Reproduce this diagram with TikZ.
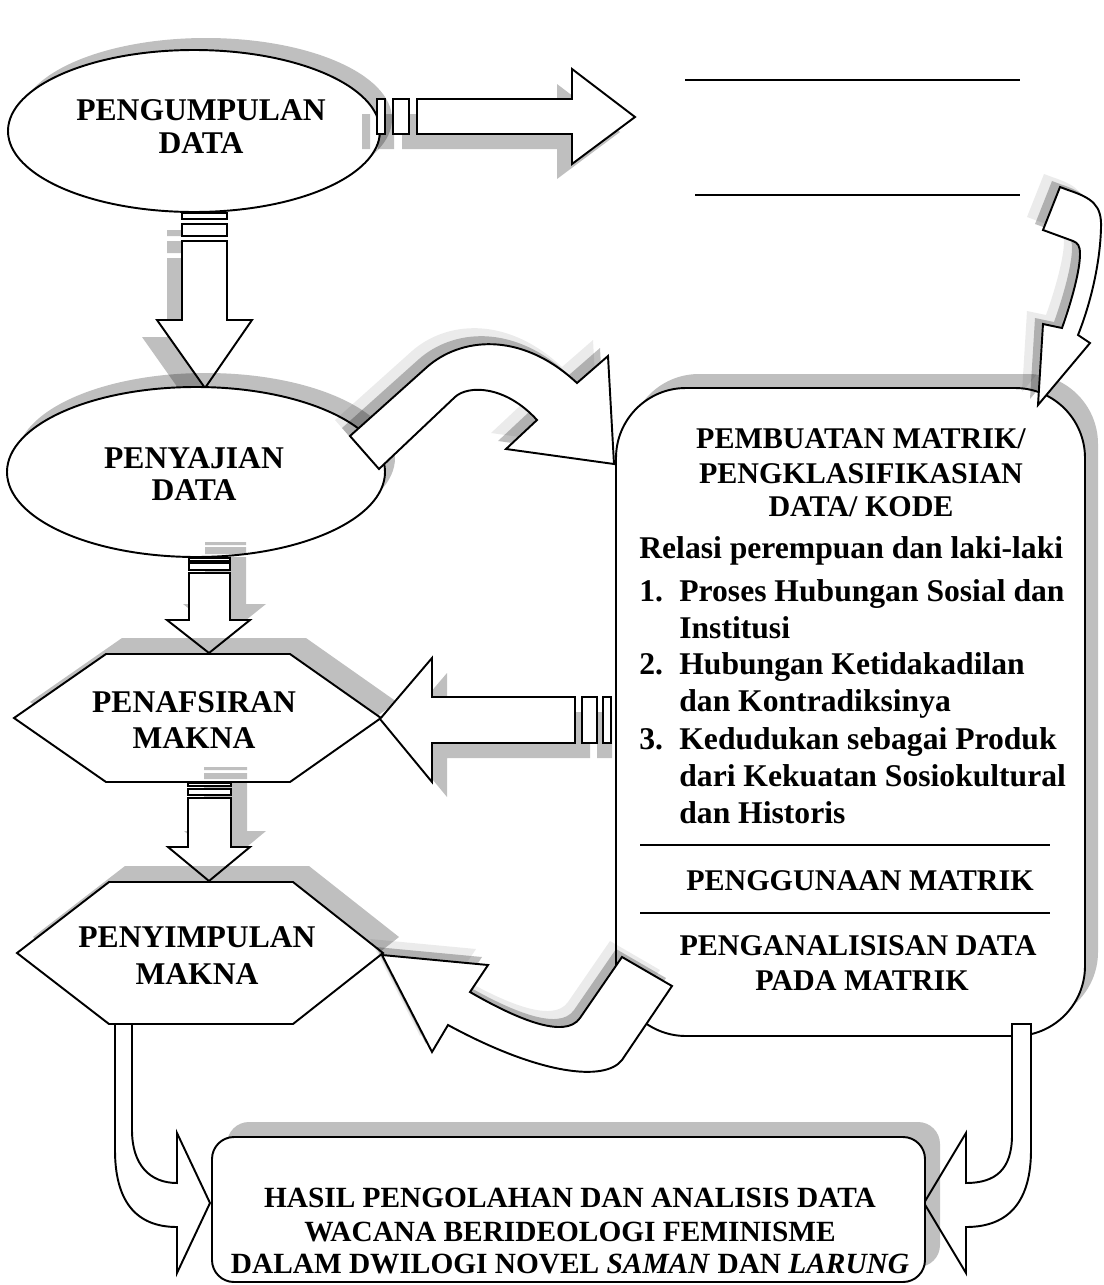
\documentclass[tikz,border=0pt]{standalone}
\usepackage{fontspec}
\setmainfont{Liberation Serif}
\newcommand\shapefont{\bfseries\fontsize{18pt}{21pt}\selectfont}
\newcommand\headfont{\bfseries\fontsize{17.1pt}{20pt}\selectfont}
\newcommand\capfont{\bfseries\fontsize{16.7pt}{19pt}\selectfont}
\newcommand\bodyfont{\bfseries\fontsize{18pt}{21pt}\selectfont}
% block arrow outlines (pixel-like units, y grows downwards)
\newcommand\pArrRight{(417,99) -- (572,99) -- (572,69) -- (635,117) -- (572,164) -- (572,134) -- (417,134) -- cycle (377,99) rectangle (385,134) (393,99) rectangle (409,134)}
\newcommand\pArrA{(182,241) -- (227,241) -- (227,320) -- (252,320) -- (205,388) -- (157,320) -- (182,320) -- cycle (182,213) rectangle (227,219) (182,224) rectangle (227,236)}
\newcommand\pArrB{(189,573) -- (230,573) -- (230,620) -- (250,620) -- (209,653) -- (167,620) -- (189,620) -- cycle (189,558) rectangle (230,561) (189,563) rectangle (230,570)}
\newcommand\pArrC{(188,798) -- (231,798) -- (231,847) -- (250,847) -- (209,881) -- (168,847) -- (188,847) -- cycle (188,783) rectangle (231,786) (188,789) rectangle (231,795)}
\newcommand\pArrLeft{(575,697) -- (432,697) -- (432,658) -- (380,719) -- (432,782) -- (432,743) -- (575,743) -- cycle (582,697) rectangle (597,743) (603,697) rectangle (611,743)}
\newcommand\pHexA{(14,718) -- (106,654) -- (290,654) -- (381,718) -- (290,782) -- (106,782) -- cycle}
\newcommand\pHexB{(17,953) -- (109,882) -- (293,882) -- (383,953) -- (293,1024) -- (109,1024) -- cycle}
\newcommand\pCurvA{(350,436) -- (427,367) .. controls (460,338) and (520,330) .. (577,383) -- (608,356) -- (614,464) -- (506,449) -- (537,420) .. controls (505,385) and (468,385) .. (455,397) -- (379,469) -- cycle}
\newcommand\pCurvB{(382,955) -- (488,965) -- (470,992) .. controls (515,1018) and (565,1040) .. (580,1018) -- (622,957) -- (672,986) -- (622,1060) .. controls (605,1082) and (540,1075) .. (448,1025) -- (432,1052) -- cycle}
\newcommand\pCurvC{(1060,187) -- (1068,190) .. controls (1092,198) and (1102,205) .. (1101,228) .. controls (1100,265) and (1090,305) .. (1078,335) -- (1090,343) -- (1038,405) -- (1043,324) -- (1062,328) .. controls (1072,300) and (1080,270) .. (1080,254) .. controls (1080,246) and (1078,243) .. (1073,241) -- (1043,230) -- cycle}
\newcommand\pUL{(115,1024) -- (115,1150) .. controls (115,1200) and (135,1227) .. (177,1227) -- (177,1273) -- (210,1203) -- (177,1133) -- (177,1183) .. controls (150,1183) and (132,1165) .. (132,1130) -- (132,1024) -- cycle}
\newcommand\pUR{(1031,1024) -- (1031,1150) .. controls (1031,1200) and (1010,1227) .. (966,1227) -- (966,1273) -- (924,1203) -- (966,1133) -- (966,1183) .. controls (995,1183) and (1012,1170) .. (1012,1135) -- (1012,1024) -- cycle}
\begin{document}
\begin{tikzpicture}[x=0.02cm, y=-0.02cm,
  shp/.style={draw=black, line width=1.1pt, fill=white, line join=miter},
  shd/.style={fill=black, fill opacity=0.25},
  shdl/.style={fill=black, fill opacity=0.08},
  shapet/.style={font=\shapefont, inner sep=0pt, anchor=base},
  headt/.style={font=\headfont, inner sep=0pt, anchor=base},
  capt/.style={font=\capfont, inner sep=0pt, anchor=base},
  bodyt/.style={font=\bodyfont, inner sep=0pt, anchor=base west},
  rulel/.style={line width=1.1pt}]
\useasboundingbox (0,0) rectangle (1103,1285);

% PENGUMPULAN DATA
\fill[shd, shift={(12,-12)}] (194,131) ellipse [x radius=186, y radius=81];
\draw[shp] (194,131) ellipse [x radius=186, y radius=81];

% arrow to the blank lines
\fill[shd, shift={(-15,15)}] \pArrRight;
\draw[shp] \pArrRight;
\draw[rulel] (685,80) -- (1020,80);
\draw[rulel] (695,195) -- (1020,195);

% down arrow to PENYAJIAN DATA
\fill[shd, shift={(-15,17)}] \pArrA;
\draw[shp] \pArrA;

% PENYAJIAN DATA
\fill[shd, shift={(10,-14)}] (196,472) ellipse [x radius=189, y radius=85];
\draw[shp] (196,472) ellipse [x radius=189, y radius=85];

% down arrow to PENAFSIRAN MAKNA
\fill[shd, shift={(16,-16)}] \pArrB;
\draw[shp] \pArrB;

% PENAFSIRAN MAKNA
\fill[shd, shift={(16,-16)}] \pHexA;
\draw[shp] \pHexA;

% down arrow to PENYIMPULAN MAKNA
\fill[shd, shift={(16,-16)}] \pArrC;
\draw[shp] \pArrC;

% PENYIMPULAN MAKNA
\fill[shd, shift={(16,-16)}] \pHexB;
\draw[shp] \pHexB;

% arrow from the matrix box back to PENAFSIRAN MAKNA
\fill[shd, shift={(15,15)}] \pArrLeft;
\draw[shp] \pArrLeft;

% matrix box
\fill[shd, shift={(13,-14)}, rounded corners=1.4cm] (616,388) rectangle (1085,1036);
\draw[shp, rounded corners=1.4cm] (616,388) rectangle (1085,1036);
\draw[rulel] (640,845) -- (1050,845);
\draw[rulel] (640,913) -- (1050,913);

% curved arrow PENYAJIAN DATA -> matrix box
\fill[shdl, shift={(-15,-16)}] \pCurvA;
\fill[shd, shift={(-8,-8)}] \pCurvA;
\draw[shp] \pCurvA;

% curved arrow from the lines into the matrix box
\fill[shdl, shift={(-16,-13)}] \pCurvC;
\fill[shd, shift={(-8,-6)}] \pCurvC;
\draw[shp] \pCurvC;

% curved arrow matrix box -> PENYIMPULAN MAKNA
\fill[shdl, shift={(-12,-16)}] \pCurvB;
\fill[shd, shift={(-6,-8)}] \pCurvB;
\draw[shp] \pCurvB;

% bent arrows into the result box
\draw[shp] \pUL;
\draw[shp] \pUR;

% result box
\fill[shd, shift={(15,-15)}, rounded corners=0.44cm] (212,1137) rectangle (925,1282);
\draw[shp, rounded corners=0.44cm] (212,1137) rectangle (925,1282);

% texts
\node[shapet] (t1a) at (201,120) {PENGUMPULAN};
\node[shapet] (t1b) at (201,153) {DATA};
\node[shapet] (t2a) at (194,468) {PENYAJIAN};
\node[shapet] (t2b) at (194,500) {DATA};
\node[shapet] (t3a) at (194,712) {PENAFSIRAN};
\node[shapet] (t3b) at (194,748) {MAKNA};
\node[shapet] (t4a) at (197,947) {PENYIMPULAN};
\node[shapet] (t4b) at (197,984) {MAKNA};

\node[headt] (m1) at (861,448) {PEMBUATAN MATRIK/};
\node[headt] (m2) at (861,483) {PENGKLASIFIKASIAN};
\node[headt] (m3) at (861,516) {DATA/ KODE};
\node[bodyt] (b0) at (639,558) {Relasi perempuan dan laki-laki};
\node[bodyt] (n1) at (639,601) {1.};
\node[bodyt] (b1) at (679,601) {Proses Hubungan Sosial dan};
\node[bodyt] (b1b) at (679,638) {Institusi};
\node[bodyt] (n2) at (639,674) {2.};
\node[bodyt] (b2) at (679,674) {Hubungan Ketidakadilan};
\node[bodyt] (b2b) at (679,711) {dan Kontradiksinya};
\node[bodyt] (n3) at (639,749) {3.};
\node[bodyt] (b3) at (679,749) {Kedudukan sebagai Produk};
\node[bodyt] (b3b) at (679,786) {dari Kekuatan Sosiokultural};
\node[bodyt] (b3c) at (679,823) {dan Historis};
\node[headt] (m4) at (860,890) {PENGGUNAAN MATRIK};
\node[headt] (m5) at (858,955) {PENGANALISISAN DATA};
\node[headt] (m6) at (862,990) {PADA MATRIK};

\node[capt] (h1) at (570,1207) {HASIL PENGOLAHAN DAN ANALISIS DATA};
\node[capt] (h2) at (570,1241) {WACANA BERIDEOLOGI FEMINISME};
\node[capt] (h3) at (570,1273) {DALAM DWILOGI NOVEL \textit{SAMAN} DAN \textit{LARUNG}};
\end{tikzpicture}
\end{document}
